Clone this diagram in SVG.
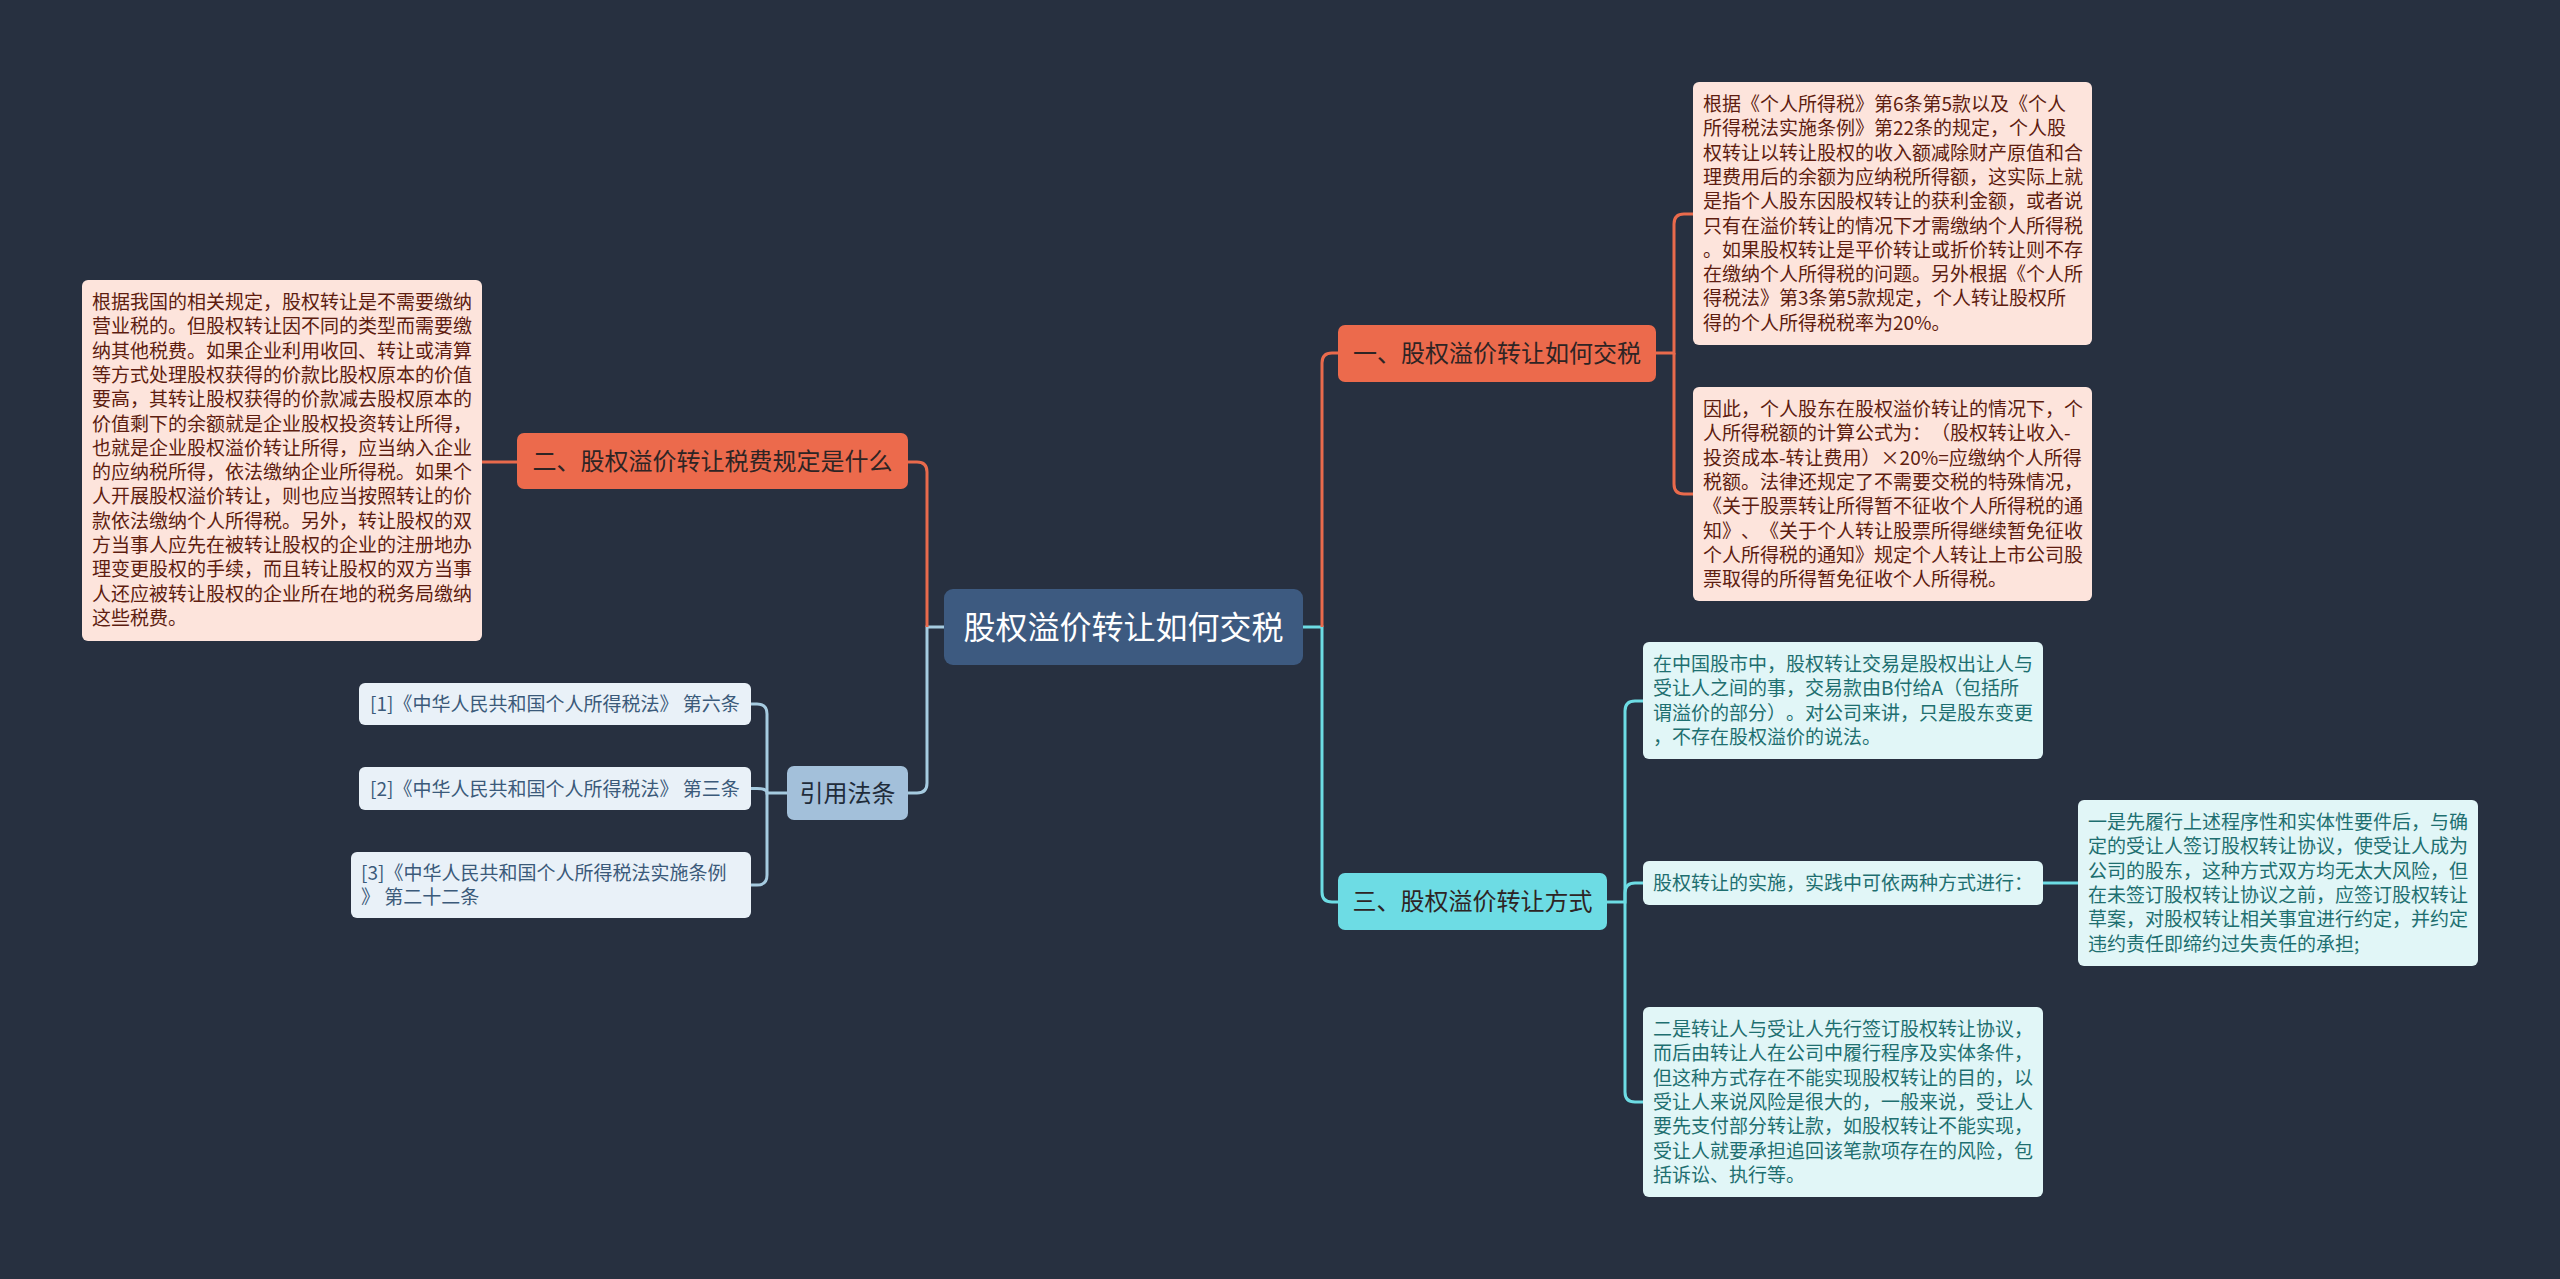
<svg xmlns="http://www.w3.org/2000/svg" width="2560" height="1279" viewBox="0 0 2560 1279">
<style>
text{font-family:"Noto Sans CJK SC","Noto Sans",sans-serif;text-spacing-trim:space-all;font-feature-settings:"chws" 0,"halt" 0,"palt" 0;}
.bg{fill:#273040;}
.c{fill:none;stroke-width:3;}
.co{stroke:#e96a4c;}
.ct{stroke:#6ddce4;}
.cb{stroke:#a6cbe0;}
.root{fill:#3d5a80;}
.rootT{fill:#ffffff;font-size:32px;}
.l1o{fill:#ec6a4c;}
.l1t{fill:#6ddce4;}
.l1b{fill:#a3c0da;}
.l1T{fill:#2e2424;font-size:24px;}
.l1Tb{fill:#1f2c3a;font-size:24px;}
.lo{fill:#fde4dc;}
.loT{fill:#5e1d10;font-size:19px;}
.lt{fill:#e1f6f7;}
.ltT{fill:#1e6f70;font-size:19px;}
.lb{fill:#e9f1f8;}
.lbT{fill:#3b5a7a;font-size:19px;}
</style>
<rect class="bg" x="0" y="0" width="2560" height="1279"/>

<g id="connectors">
  <path class="c ct" d="M1303,627 H1322 V892 Q1322,902 1332,902 H1338"/>
  <path class="c co" d="M1322,627 V363 Q1322,353 1332,353 H1338"/>
  <path class="c co" d="M1656,353 H1674 V224 Q1674,214 1684,214 H1693"/>
  <path class="c co" d="M1674,353 V484 Q1674,494 1684,494 H1693"/>
  <path class="c ct" d="M1607,902 H1625 V711 Q1625,701 1635,701 H1643"/>
  <path class="c ct" d="M1625,902 V893 Q1625,883 1635,883 H1643"/>
  <path class="c ct" d="M1625,902 V1092 Q1625,1102 1635,1102 H1643"/>
  <path class="c ct" d="M2043,883 H2078"/>
  <path class="c cb" d="M944,627 H927 V783 Q927,793 917,793 H908"/>
  <path class="c co" d="M927,627 V472 Q927,462 917,462 H908"/>
  <path class="c co" d="M517,462 H482"/>
  <path class="c cb" d="M787,793 H767 V714 Q767,704 757,704 H751"/>
  <path class="c cb" d="M767,793 C767,790 765,788.5 757,788.5 H751"/>
  <path class="c cb" d="M767,793 V875 Q767,885 757,885 H751"/>
</g>

<g id="root">
  <rect class="root" x="944" y="589" width="359" height="76" rx="9"/>
  <text class="rootT" x="1123.5" y="639" text-anchor="middle">股权溢价转让如何交税</text>
</g>

<g id="b1">
  <rect class="l1o" x="1338" y="325" width="318" height="57" rx="7"/>
  <text class="l1T" x="1497" y="362" text-anchor="middle">一、股权溢价转让如何交税</text>
</g>
<g id="b2">
  <rect class="l1o" x="517" y="433" width="391" height="56" rx="7"/>
  <text class="l1T" x="712.5" y="470" text-anchor="middle">二、股权溢价转让税费规定是什么</text>
</g>
<g id="b3">
  <rect class="l1t" x="1338" y="873" width="269" height="57" rx="7"/>
  <text class="l1T" x="1472.5" y="910" text-anchor="middle">三、股权溢价转让方式</text>
</g>
<g id="b4">
  <rect class="l1b" x="787" y="766" width="121" height="54" rx="7"/>
  <text class="l1Tb" x="847.5" y="802" text-anchor="middle">引用法条</text>
</g>

<g id="leaf1">
  <rect class="lo" x="1693" y="82" width="399" height="263" rx="6"/>
  <text class="loT">
    <tspan x="1703" y="111">根据《个人所得税》第6条第5款以及《个人</tspan>
    <tspan x="1703" y="135.3">所得税法实施条例》第22条的规定，个人股</tspan>
    <tspan x="1703" y="159.6">权转让以转让股权的收入额减除财产原值和合</tspan>
    <tspan x="1703" y="183.9">理费用后的余额为应纳税所得额，这实际上就</tspan>
    <tspan x="1703" y="208.2">是指个人股东因股权转让的获利金额，或者说</tspan>
    <tspan x="1703" y="232.5">只有在溢价转让的情况下才需缴纳个人所得税</tspan>
    <tspan x="1703" y="256.8">。如果股权转让是平价转让或折价转让则不存</tspan>
    <tspan x="1703" y="281.1">在缴纳个人所得税的问题。另外根据《个人所</tspan>
    <tspan x="1703" y="305.4">得税法》第3条第5款规定，个人转让股权所</tspan>
    <tspan x="1703" y="329.7">得的个人所得税税率为20%。</tspan>
  </text>
</g>

<g id="leaf2">
  <rect class="lo" x="1693" y="387" width="399" height="214" rx="6"/>
  <text class="loT">
    <tspan x="1703" y="416">因此，个人股东在股权溢价转让的情况下，个</tspan>
    <tspan x="1703" y="440.3">人所得税额的计算公式为：（股权转让收入-</tspan>
    <tspan x="1703" y="464.6">投资成本-转让费用）×20%=应缴纳个人所得</tspan>
    <tspan x="1703" y="488.9">税额。法律还规定了不需要交税的特殊情况，</tspan>
    <tspan x="1703" y="513.2">《关于股票转让所得暂不征收个人所得税的通</tspan>
    <tspan x="1703" y="537.5">知》、《关于个人转让股票所得继续暂免征收</tspan>
    <tspan x="1703" y="561.8">个人所得税的通知》规定个人转让上市公司股</tspan>
    <tspan x="1703" y="586.1">票取得的所得暂免征收个人所得税。</tspan>
  </text>
</g>

<g id="leaf3">
  <rect class="lo" x="82" y="280" width="400" height="361" rx="6"/>
  <text class="loT">
    <tspan x="92" y="309">根据我国的相关规定，股权转让是不需要缴纳</tspan>
    <tspan x="92" y="333.3">营业税的。但股权转让因不同的类型而需要缴</tspan>
    <tspan x="92" y="357.6">纳其他税费。如果企业利用收回、转让或清算</tspan>
    <tspan x="92" y="381.9">等方式处理股权获得的价款比股权原本的价值</tspan>
    <tspan x="92" y="406.2">要高，其转让股权获得的价款减去股权原本的</tspan>
    <tspan x="92" y="430.5">价值剩下的余额就是企业股权投资转让所得，</tspan>
    <tspan x="92" y="454.8">也就是企业股权溢价转让所得，应当纳入企业</tspan>
    <tspan x="92" y="479.1">的应纳税所得，依法缴纳企业所得税。如果个</tspan>
    <tspan x="92" y="503.4">人开展股权溢价转让，则也应当按照转让的价</tspan>
    <tspan x="92" y="527.7">款依法缴纳个人所得税。另外，转让股权的双</tspan>
    <tspan x="92" y="552">方当事人应先在被转让股权的企业的注册地办</tspan>
    <tspan x="92" y="576.3">理变更股权的手续，而且转让股权的双方当事</tspan>
    <tspan x="92" y="600.6">人还应被转让股权的企业所在地的税务局缴纳</tspan>
    <tspan x="92" y="624.9">这些税费。</tspan>
  </text>
</g>

<g id="leaf4">
  <rect class="lt" x="1643" y="642" width="400" height="117" rx="6"/>
  <text class="ltT">
    <tspan x="1653" y="671">在中国股市中，股权转让交易是股权出让人与</tspan>
    <tspan x="1653" y="695.3">受让人之间的事，交易款由B付给A（包括所</tspan>
    <tspan x="1653" y="719.6">谓溢价的部分）。对公司来讲，只是股东变更</tspan>
    <tspan x="1653" y="743.9">，不存在股权溢价的说法。</tspan>
  </text>
</g>

<g id="leaf5">
  <rect class="lt" x="1643" y="861" width="400" height="44" rx="6"/>
  <text class="ltT" x="1653" y="890">股权转让的实施，实践中可依两种方式进行：</text>
</g>

<g id="leaf6">
  <rect class="lt" x="1643" y="1007" width="400" height="190" rx="6"/>
  <text class="ltT">
    <tspan x="1653" y="1036">二是转让人与受让人先行签订股权转让协议，</tspan>
    <tspan x="1653" y="1060.3">而后由转让人在公司中履行程序及实体条件，</tspan>
    <tspan x="1653" y="1084.6">但这种方式存在不能实现股权转让的目的，以</tspan>
    <tspan x="1653" y="1108.9">受让人来说风险是很大的，一般来说，受让人</tspan>
    <tspan x="1653" y="1133.2">要先支付部分转让款，如股权转让不能实现，</tspan>
    <tspan x="1653" y="1157.5">受让人就要承担追回该笔款项存在的风险，包</tspan>
    <tspan x="1653" y="1181.8">括诉讼、执行等。</tspan>
  </text>
</g>

<g id="leaf7">
  <rect class="lt" x="2078" y="800" width="400" height="166" rx="6"/>
  <text class="ltT">
    <tspan x="2088" y="829">一是先履行上述程序性和实体性要件后，与确</tspan>
    <tspan x="2088" y="853.3">定的受让人签订股权转让协议，使受让人成为</tspan>
    <tspan x="2088" y="877.6">公司的股东，这种方式双方均无太大风险，但</tspan>
    <tspan x="2088" y="901.9">在未签订股权转让协议之前，应签订股权转让</tspan>
    <tspan x="2088" y="926.2">草案，对股权转让相关事宜进行约定，并约定</tspan>
    <tspan x="2088" y="950.5">违约责任即缔约过失责任的承担;</tspan>
  </text>
</g>

<g id="ref1">
  <rect class="lb" x="359" y="683" width="392" height="42" rx="6"/>
  <text class="lbT" x="370" y="711">[1]《中华人民共和国个人所得税法》 第六条</text>
</g>
<g id="ref2">
  <rect class="lb" x="359" y="767" width="392" height="43" rx="6"/>
  <text class="lbT" x="370" y="795.5">[2]《中华人民共和国个人所得税法》 第三条</text>
</g>
<g id="ref3">
  <rect class="lb" x="351" y="852" width="400" height="66" rx="6"/>
  <text class="lbT">
    <tspan x="361" y="880">[3]《中华人民共和国个人所得税法实施条例</tspan>
    <tspan x="361" y="904.3">》 第二十二条</tspan>
  </text>
</g>
</svg>
